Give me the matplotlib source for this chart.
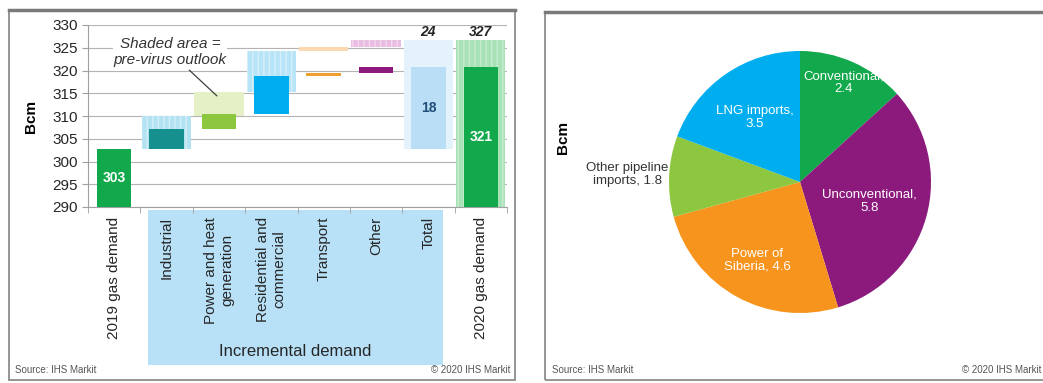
import numpy as np
import matplotlib
matplotlib.use('Agg')
import matplotlib.pyplot as plt
from matplotlib.patches import Rectangle

plt.rcParams['font.family'] = ['Liberation Sans', 'DejaVu Sans']

# waterfall data (Bcm)
categories = ['2019 gas demand', 'Industrial', 'Power and heat\ngeneration',
              'Residential and\ncommercial', 'Transport', 'Other', 'Total',
              '2020 gas demand']
base_2019 = 302.7
actual_inc = [4.5, 3.3, 8.2, 0.8, 1.3]
previrus_inc = [7.3, 5.2, 9.0, 1.0, 1.4]

# pie data (Bcm)
pie_labels = ['Conventional,\n2.4', 'Unconventional,\n5.8', 'Power of\nSiberia, 4.6',
              'Other pipeline\nimports, 1.8', 'LNG imports,\n3.5']
pie_values = [2.4, 5.8, 4.6, 1.8, 3.5]

actual_colors = ['#16908f', '#8dc63f', '#00aeef', '#f0a030', '#8b1a7c']
shaded_colors = ['#b3e3f2', '#e6f0c6', '#b8e4f7', '#fbd9b0', '#e9bde2']
hatch_colors = ['#d2eef8', '#e6f0c6', '#d6effa', '#fbd9b0', '#f3d8ee']
shaded_hatch = ['|||', None, '|||', None, '|||']
green = '#12a84c'
pie_colors = [green, '#8b1a7c', '#f7941d', '#8dc63f', '#00aeef']
pie_text_colors = ['white', 'white', 'white', '#333333', 'white']
pie_label_dist = [0.83, 0.55, 0.68, 1.32, 0.6]

W, H = 1043, 383
fig = plt.figure(figsize=(W / 100, H / 100), dpi=100)
fig.patch.set_facecolor('white')

def px(x0, y0, x1, y1):
    return [x0 / W, 1 - y1 / H, (x1 - x0) / W, (y1 - y0) / H]

# panel frames
for (x0, y0, x1, y1) in [(9, 10, 515, 380), (545, 12, 1050, 380)]:
    fig.add_artist(Rectangle((x0 / W, 1 - y1 / H), (x1 - x0) / W, (y1 - y0) / H,
                             transform=fig.transFigure, fill=False,
                             ec='#8c8c8c', lw=1.3, zorder=5))
    fig.add_artist(plt.Line2D([x0 / W, x1 / W], [1 - y0 / H] * 2,
                              transform=fig.transFigure, color='#7a7a7a', lw=2.5, zorder=5))

# incremental demand box behind tick labels
fig.add_artist(Rectangle((148 / W, 1 - 365 / H), 295 / W, 155 / H,
                         transform=fig.transFigure, fc='#b8e1f7', ec='none', zorder=-1))
fig.text(295 / W, 1 - 352 / H, 'Incremental demand', ha='center', va='center',
         fontsize=12, color='#262626')

# ---- waterfall ----
ax = fig.add_axes(px(88, 25, 507, 207))
ymin = 290
x = np.arange(len(categories))
w_act, w_sh = 0.66, 0.94

act_bottoms = base_2019 + np.concatenate([[0], np.cumsum(actual_inc)[:-1]])
pre_bottoms = base_2019 + np.concatenate([[0], np.cumsum(previrus_inc)[:-1]])
total_act = sum(actual_inc)
total_pre = sum(previrus_inc)

# shaded pre-virus outlook
for i in range(5):
    ax.bar(x[i + 1], previrus_inc[i], w_sh, bottom=pre_bottoms[i], color=shaded_colors[i],
           hatch=shaded_hatch[i], edgecolor=hatch_colors[i], lw=0, zorder=2)
ax.bar(x[6], total_pre, w_sh, bottom=base_2019, color='#e4f3fb', lw=0, zorder=2)
ax.bar(x[7], base_2019 + total_pre - ymin, w_sh, bottom=ymin, color='#a8e2b6',
       hatch='|||', edgecolor='#c6ecd0', lw=0, zorder=2)

# actual
ax.bar(x[0], base_2019 - ymin, w_act, bottom=ymin, color=green, zorder=3)
for i in range(5):
    ax.bar(x[i + 1], actual_inc[i], w_act, bottom=act_bottoms[i], color=actual_colors[i], zorder=3)
ax.bar(x[6], total_act, w_act, bottom=base_2019, color='#b9def5', zorder=3)
ax.bar(x[7], base_2019 + total_act - ymin, w_act, bottom=ymin, color=green, zorder=3)

ax.text(x[0], (ymin + base_2019) / 2, f'{base_2019:.0f}', ha='center', va='center',
        color='white', fontsize=10, fontweight='bold', zorder=4)
ax.text(x[6], base_2019 + total_act / 2, f'{total_act:.0f}', ha='center', va='center',
        color='#1f4e79', fontsize=10, fontweight='bold', zorder=4)
ax.text(x[7], (ymin + base_2019 + total_act) / 2, f'{base_2019 + total_act:.0f}',
        ha='center', va='center', color='white', fontsize=10, fontweight='bold', zorder=4)
ax.text(x[6], base_2019 + total_pre + 0.4, f'{total_pre:.0f}', ha='center', va='bottom',
        fontsize=10, fontweight='bold', style='italic', color='#262626')
ax.text(x[7], base_2019 + total_pre + 0.4, f'{base_2019 + total_pre:.0f}', ha='center',
        va='bottom', fontsize=10, fontweight='bold', style='italic', color='#262626')

ax.annotate('Shaded area =\npre-virus outlook', xy=(2.0, 314.0), xytext=(1.07, 324.0),
            ha='center', va='center', fontsize=11, style='italic', color='#333333',
            bbox=dict(fc='white', ec='none', pad=0.5),
            arrowprops=dict(arrowstyle='-', color='#404040', lw=0.9), zorder=5)

ax.set_xlim(-0.5, 7.5)
ax.set_ylim(ymin, 330)
ax.set_yticks(range(290, 331, 5))
ax.set_xticks(x)
ax.set_xticklabels(categories, rotation=90, ma='center', fontsize=11, color='#262626')
ax.set_xticks(np.arange(-0.5, 8), minor=True)
ax.tick_params(axis='x', which='major', length=0, pad=7)
ax.tick_params(axis='x', which='minor', length=4, color='#a0a0a0')
ax.tick_params(axis='y', length=4, color='#a0a0a0', labelsize=11, labelcolor='#262626')
ax.yaxis.grid(True, color='#b4b4b4', lw=0.8)
ax.set_axisbelow(True)
for s in ['top', 'right']:
    ax.spines[s].set_visible(False)
for s in ['left', 'bottom']:
    ax.spines[s].set_color('#a0a0a0')
ax.set_ylabel('Bcm', fontsize=11, fontweight='bold', labelpad=10)

fig.text(15 / W, 1 - 370 / H, 'Source: IHS Markit', fontsize=7, color='#555555', va='center')
fig.text(510 / W, 1 - 370 / H, '\u00a9 2020 IHS Markit', fontsize=7, color='#555555',
         va='center', ha='right')

# ---- pie ----
r = 131
side = 2 * r * 1.25
ax2 = fig.add_axes(px(800 - side / 2, 182 - side / 2, 800 + side / 2, 182 + side / 2))
wedges, _ = ax2.pie(pie_values, colors=pie_colors, startangle=90, counterclock=False,
                    wedgeprops=dict(lw=0))
ax2.set_aspect('equal')
for wdg, lab, tc, d in zip(wedges, pie_labels, pie_text_colors, pie_label_dist):
    ang = np.deg2rad((wdg.theta1 + wdg.theta2) / 2)
    ax2.text(d * np.cos(ang), d * np.sin(ang), lab, ha='center', va='center',
             fontsize=9.5, color=tc, linespacing=1.1)

fig.text(563 / W, 1 - 137 / H, 'Bcm', fontsize=11, fontweight='bold', rotation=90,
         ha='center', va='center')
fig.text(552 / W, 1 - 370 / H, 'Source: IHS Markit', fontsize=7, color='#555555', va='center')
fig.text(1041 / W, 1 - 370 / H, '\u00a9 2020 IHS Markit', fontsize=7, color='#555555',
         va='center', ha='right')

fig.savefig('out.png', dpi=100, facecolor='white')
